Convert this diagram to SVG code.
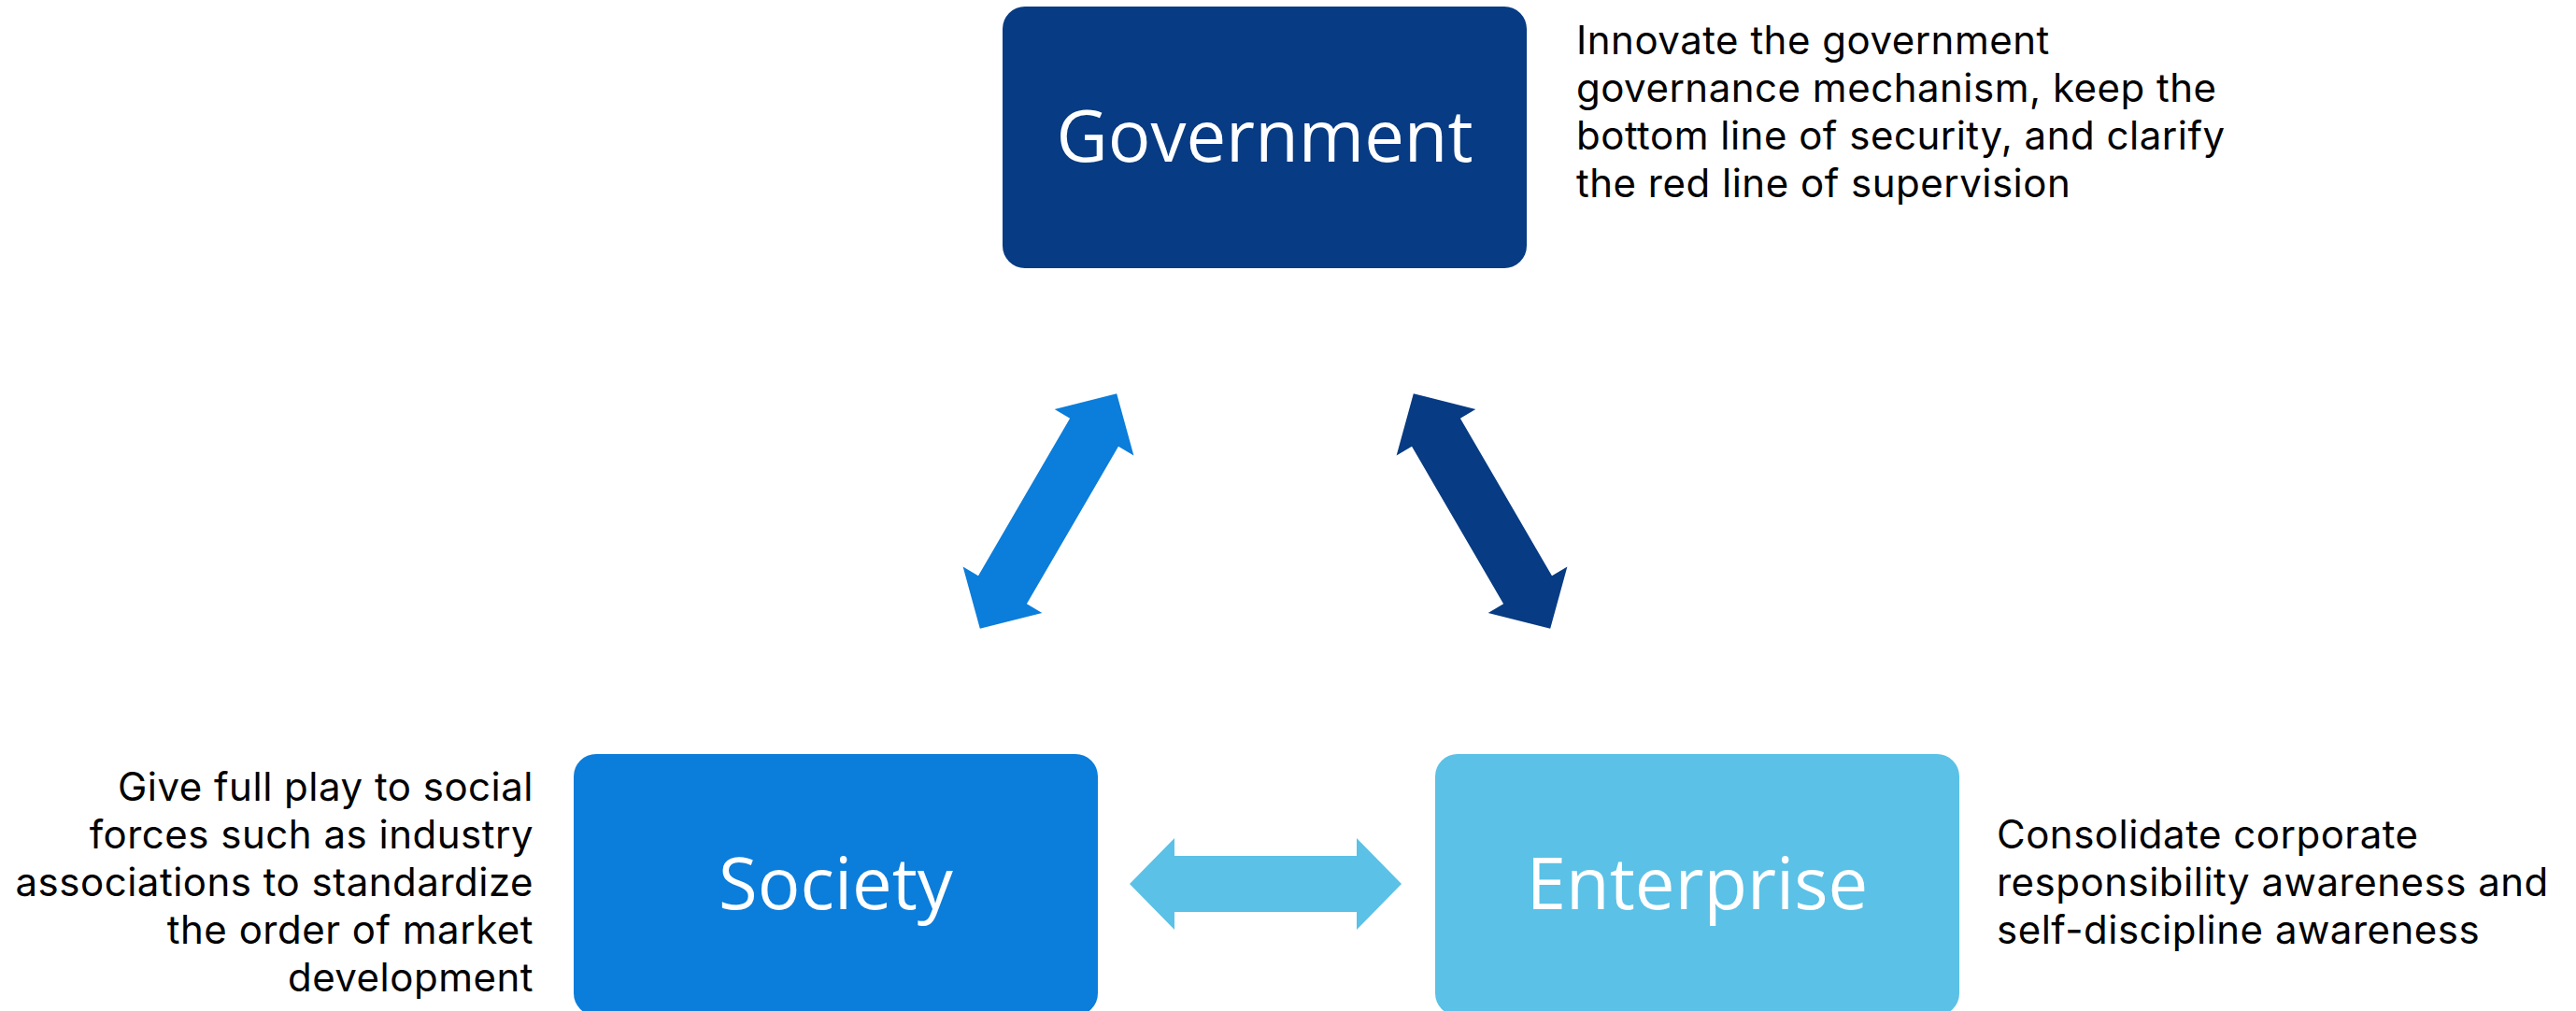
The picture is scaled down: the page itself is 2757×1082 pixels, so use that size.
<svg xmlns="http://www.w3.org/2000/svg" width="2757" height="1082" viewBox="0 0 2757 1082">
<style>
.title{font-family:"Open Sans","Noto Sans","Liberation Sans",sans-serif;font-size:76px;fill:#ffffff;text-anchor:middle}
.desc{font-family:Inter,"Open Sans","Liberation Sans",sans-serif;font-size:42px;letter-spacing:0.5px;fill:#000000}
</style>
<defs>
<path id="dblarrow" d="M-145.5,0 L-97.5,-49 L-97.5,-30 L97.5,-30 L97.5,-49 L145.5,0 L97.5,49 L97.5,30 L-97.5,30 L-97.5,49 Z"/>
</defs>
<rect width="2757" height="1082" fill="#ffffff"/>
<g id="connectors">
<use href="#dblarrow" fill="#0B7DDA" transform="translate(1122,547) rotate(-59.8)"/>
<use href="#dblarrow" fill="#073B83" transform="translate(1586,547) rotate(59.8)"/>
<use href="#dblarrow" fill="#5BC1E6" transform="translate(1354.5,946)"/>
</g>
<g id="government">
<rect x="1073" y="7" width="561" height="280" rx="24" fill="#073B83"/>
<text class="title" x="1353.5" y="173">Government</text>
<text class="desc"><tspan x="1687" y="58">Innovate the government</tspan><tspan x="1687" y="109">governance mechanism, keep the</tspan><tspan x="1687" y="160">bottom line of security, and clarify</tspan><tspan x="1687" y="211">the red line of supervision</tspan></text>
</g>
<g id="society">
<rect x="614" y="807" width="561" height="280" rx="24" fill="#0B7DDA"/>
<text class="title" x="894.5" y="973">Society</text>
<text class="desc" text-anchor="end"><tspan x="571" y="857">Give full play to social</tspan><tspan x="571" y="908">forces such as industry</tspan><tspan x="571" y="959">associations to standardize</tspan><tspan x="571" y="1010">the order of market</tspan><tspan x="571" y="1061">development</tspan></text>
</g>
<g id="enterprise">
<rect x="1536" y="807" width="561" height="280" rx="24" fill="#5BC1E6"/>
<text class="title" x="1816.5" y="973">Enterprise</text>
<text class="desc"><tspan x="2137" y="908">Consolidate corporate</tspan><tspan x="2137" y="959">responsibility awareness and</tspan><tspan x="2137" y="1010">self-discipline awareness</tspan></text>
</g>
</svg>
